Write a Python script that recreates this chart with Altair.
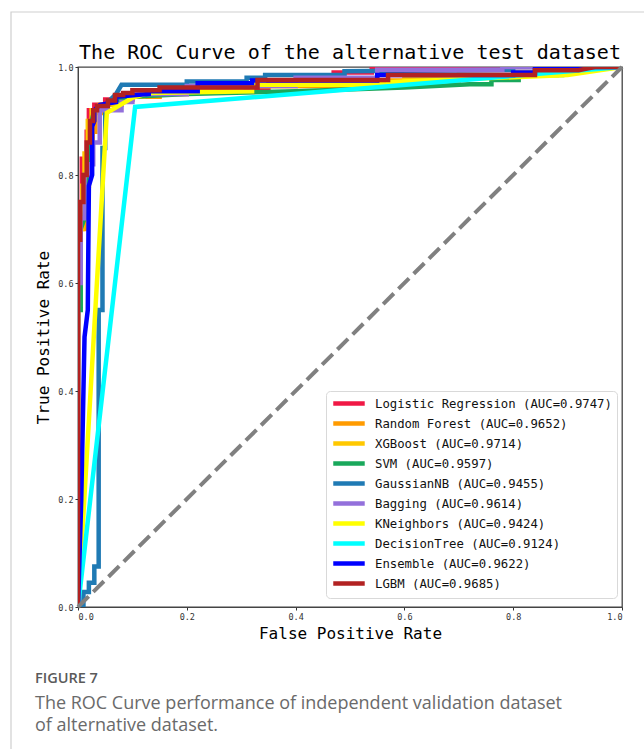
import altair as alt
import pandas as pd

# ---------------- data ----------------
model_names = [
    "Logistic Regression (AUC=0.9747)",
    "Random Forest (AUC=0.9652)",
    "XGBoost (AUC=0.9714)",
    "SVM (AUC=0.9597)",
    "GaussianNB (AUC=0.9455)",
    "Bagging (AUC=0.9614)",
    "KNeighbors (AUC=0.9424)",
    "DecisionTree (AUC=0.9124)",
    "Ensemble (AUC=0.9622)",
    "LGBM (AUC=0.9685)",
]
model_colors = ["#F01845", "#FF9B00", "#FFC800", "#19A85B", "#1F7AB4",
                "#9370DB", "#FFFF00", "#00FFFF", "#0000FF", "#B22222"]

lr_fpr = [0, 0, 0.007, 0.007, 0.016, 0.016, 0.02, 0.02, 0.03, 0.03, 0.05, 0.05, 0.1, 0.1, 0.2, 0.2, 0.35, 0.35, 0.47, 0.47, 0.54, 0.54, 1]
lr_tpr = [0, 0.74, 0.74, 0.83, 0.83, 0.88, 0.88, 0.92, 0.92, 0.93, 0.93, 0.94, 0.94, 0.95, 0.95, 0.96, 0.96, 0.975, 0.975, 0.99, 0.99, 1.0, 1.0]

rf_fpr = [0, 0, 0.005, 0.005, 0.012, 0.012, 0.02, 0.02, 0.027, 0.027, 0.032, 0.032, 0.045, 0.045, 0.08, 0.08, 0.15, 0.15, 0.3, 0.3, 0.5, 0.5, 0.7, 0.7, 0.88, 0.88, 1]
rf_tpr = [0, 0.62, 0.62, 0.7, 0.7, 0.78, 0.78, 0.84, 0.84, 0.88, 0.88, 0.915, 0.915, 0.93, 0.93, 0.945, 0.945, 0.955, 0.955, 0.965, 0.965, 0.975, 0.975, 0.985, 0.985, 1.0, 1.0]

xgb_fpr = [0, 0, 0.008, 0.008, 0.012, 0.012, 0.018, 0.018, 0.025, 0.025, 0.04, 0.04, 0.07, 0.07, 0.12, 0.12, 0.25, 0.25, 0.4, 0.4, 0.6, 0.6, 0.8, 0.8, 0.9, 0.9, 1]
xgb_tpr = [0, 0.7, 0.7, 0.78, 0.78, 0.84, 0.84, 0.9, 0.9, 0.92, 0.92, 0.93, 0.93, 0.945, 0.945, 0.955, 0.955, 0.965, 0.965, 0.97, 0.97, 0.98, 0.98, 0.99, 0.99, 1.0, 1.0]

svm_fpr = [0, 0, 0.005, 0.005, 0.012, 0.02, 0.025, 0.03, 0.06, 0.1, 0.2, 0.4, 0.6, 0.72, 0.76, 0.76, 0.81, 0.81, 0.89, 0.89, 0.95, 1]
svm_tpr = [0, 0.55, 0.55, 0.7, 0.72, 0.8, 0.9, 0.92, 0.935, 0.945, 0.95, 0.955, 0.962, 0.968, 0.968, 0.976, 0.976, 0.985, 0.985, 0.99, 1.0, 1.0]

gnb_fpr = [0, 0.01, 0.01, 0.02, 0.02, 0.03, 0.03, 0.038, 0.038, 0.045, 0.045, 0.05, 0.05, 0.07, 0.08, 0.2, 0.2, 0.31, 0.31, 0.344, 0.344, 0.49, 0.49, 0.8, 0.8, 1]
gnb_tpr = [0, 0.0, 0.028, 0.028, 0.045, 0.045, 0.075, 0.075, 0.55, 0.55, 0.85, 0.85, 0.93, 0.95, 0.967, 0.967, 0.973, 0.973, 0.98, 0.98, 0.985, 0.985, 0.992, 0.995, 1.0, 1.0]

bag_fpr = [0, 0, 0.005, 0.005, 0.012, 0.012, 0.02, 0.02, 0.028, 0.028, 0.04, 0.04, 0.08, 0.08, 0.1, 0.1, 0.2, 0.2, 0.4, 0.4, 0.55, 0.55, 0.78, 0.78, 1]
bag_tpr = [0, 0.6, 0.6, 0.72, 0.72, 0.8, 0.8, 0.82, 0.82, 0.86, 0.86, 0.92, 0.92, 0.935, 0.935, 0.95, 0.95, 0.965, 0.965, 0.98, 0.98, 0.995, 0.995, 1.0, 1.0]

knn_fpr = [0, 0.053, 0.1, 0.13, 0.32, 0.32, 0.57, 0.57, 0.9, 1]
knn_tpr = [0, 0.915, 0.943, 0.952, 0.955, 0.967, 0.967, 0.972, 0.985, 1.0]

dt_fpr = [0, 0.105, 1]
dt_tpr = [0, 0.926, 1.0]

ens_fpr = [0, 0.006, 0.01, 0.012, 0.018, 0.02, 0.026, 0.026, 0.03, 0.03, 0.04, 0.07, 0.07, 0.13, 0.13, 0.22, 0.22, 0.32, 0.32, 0.55, 0.55, 0.8, 0.8, 0.84, 0.84, 1]
ens_tpr = [0, 0.2, 0.4, 0.5, 0.55, 0.78, 0.8, 0.89, 0.9, 0.92, 0.93, 0.935, 0.945, 0.95, 0.955, 0.955, 0.97, 0.97, 0.975, 0.975, 0.985, 0.985, 0.99, 0.99, 1.0, 1.0]

lgbm_fpr = [0, 0, 0.004, 0.004, 0.01, 0.01, 0.016, 0.016, 0.022, 0.022, 0.028, 0.028, 0.035, 0.035, 0.055, 0.055, 0.068, 0.068, 0.083, 0.083, 0.1, 0.1, 0.15, 0.15, 0.33, 0.33, 0.57, 0.57, 0.84, 0.84, 0.92, 0.95, 1]
lgbm_tpr = [0, 0.68, 0.68, 0.75, 0.75, 0.8, 0.8, 0.86, 0.86, 0.9, 0.9, 0.92, 0.92, 0.928, 0.928, 0.938, 0.938, 0.948, 0.948, 0.952, 0.952, 0.957, 0.957, 0.962, 0.962, 0.976, 0.976, 0.985, 0.985, 0.994, 0.994, 1.0, 1.0]

curves = [(lr_fpr, lr_tpr), (rf_fpr, rf_tpr), (xgb_fpr, xgb_tpr), (svm_fpr, svm_tpr),
          (gnb_fpr, gnb_tpr), (bag_fpr, bag_tpr), (knn_fpr, knn_tpr), (dt_fpr, dt_tpr),
          (ens_fpr, ens_tpr), (lgbm_fpr, lgbm_tpr)]

diag_x = [0, 1]
diag_y = [0, 1]
tick_values = [0, 0.2, 0.4, 0.6, 0.8, 1.0]

title_text = "The ROC Curve of the alternative test dataset"
caption_label = "FIGURE 7"
caption_lines = ["The ROC Curve performance of independent validation dataset",
                 "of alternative dataset."]

MONO = "DejaVu Sans Mono"

# ---------------- chart ----------------
color_scale = alt.Scale(domain=model_names, range=model_colors)
x_scale = alt.Scale(domain=[0, 1], nice=False)
y_scale = alt.Scale(domain=[0, 1], nice=False)

x_axis = alt.Axis(values=tick_values, format=".1f", title="False Positive Rate", grid=False,
                  titlePadding=5)
y_axis = alt.Axis(values=tick_values, format=".1f", title="True Positive Rate", grid=False,
                  titlePadding=6)

legend = alt.Legend(
    orient="none", legendX=248, legendY=324, title=None,
    symbolType="M-1,0L5,0", symbolSize=110, symbolStrokeWidth=4.5,
    labelFont=MONO, labelFontSize=12.3, labelColor="#111", labelOffset=29,
    labelLimit=400, rowPadding=1, padding=5,
    strokeColor="#d9d9d9", fillColor="white", cornerRadius=4,
)

one_row = alt.Data(values=[{}])

frame = alt.Chart(one_row).mark_rect(
    fill=None, stroke="#cfcfcf", strokeWidth=1.2
).encode(x=alt.value(-67), x2=alt.value(700), y=alt.value(-55), y2=alt.value(800))

title_mark = alt.Chart(one_row).mark_text(
    align="center", baseline="middle", font=MONO, fontSize=20, color="#000"
).encode(x=alt.value(272), y=alt.value(-14), text=alt.value(title_text))

layers = [frame, title_mark]
for i, (name, (fx, ty)) in enumerate(zip(model_names, curves)):
    df = pd.DataFrame({"fpr": fx, "tpr": ty, "model": name, "i": range(len(fx))})
    layers.append(
        alt.Chart(df).mark_line(strokeWidth=4.5, clip=True).encode(
            x=alt.X("fpr:Q", scale=x_scale, axis=x_axis),
            y=alt.Y("tpr:Q", scale=y_scale, axis=y_axis),
            color=alt.Color("model:N", scale=color_scale, legend=legend),
            order="i:Q",
        )
    )

diag_df = pd.DataFrame({"fpr": diag_x, "tpr": diag_y})
diag = alt.Chart(diag_df).mark_line(
    color="#808080", strokeWidth=4, strokeDash=[15, 6.5]
).encode(x=alt.X("fpr:Q", scale=x_scale), y=alt.Y("tpr:Q", scale=y_scale))
layers.append(diag)

cap1 = alt.Chart(one_row).mark_text(
    align="left", baseline="middle", font="Open Sans", fontSize=14.5, fontWeight=600,
    color="#5a5a5a"
).encode(x=alt.value(-43), y=alt.value(612), text=alt.value(caption_label))
cap2 = alt.Chart(one_row).mark_text(
    align="left", baseline="middle", font="Open Sans", fontSize=18, color="#6a6a6a"
).encode(x=alt.value(-43), y=alt.value(637), text=alt.value(caption_lines[0]))
cap3 = alt.Chart(one_row).mark_text(
    align="left", baseline="middle", font="Open Sans", fontSize=18, color="#6a6a6a"
).encode(x=alt.value(-43), y=alt.value(659), text=alt.value(caption_lines[1]))
layers += [cap1, cap2, cap3]

chart = alt.layer(*layers).properties(
    width=544, height=540,
    padding={"left": 78, "top": 67, "right": 22, "bottom": 142},
    autosize=alt.AutoSizeParams(type="none"),
    background="white",
).configure_view(
    stroke="#444", strokeWidth=1.3
).configure_axis(
    labelFont=MONO, labelFontSize=8.5, labelColor="#333", tickSize=3, tickColor="#333",
    domainColor="#444", titleFont=MONO, titleFontSize=16, titleFontWeight="normal",
    titleColor="#000", labelPadding=2
)

chart.save("out.html", embed_options={"renderer": "svg", "actions": False})
